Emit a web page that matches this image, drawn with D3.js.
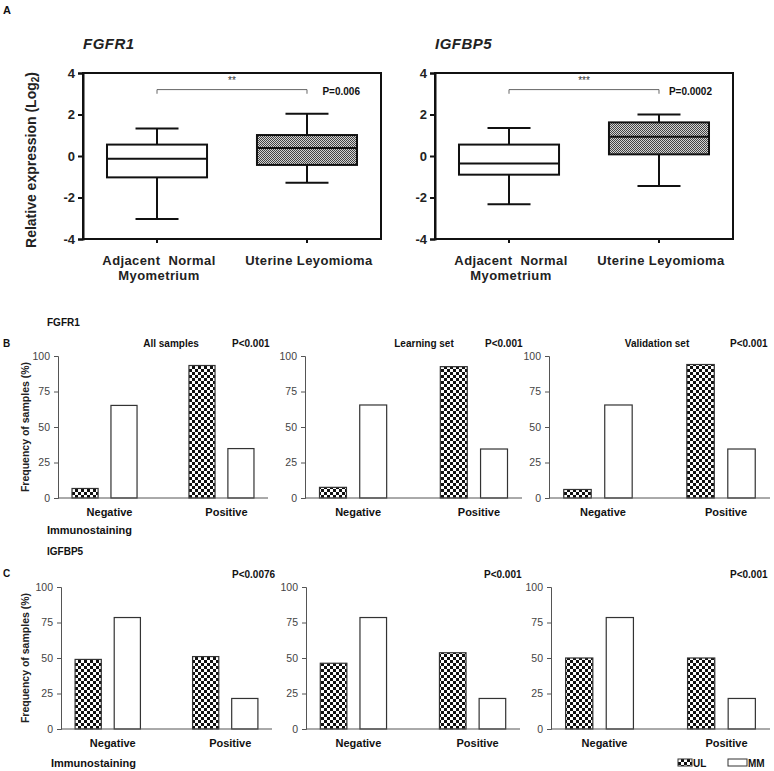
<!DOCTYPE html>
<html><head><meta charset="utf-8">
<script src="https://cdn.jsdelivr.net/npm/d3@7"></script>
<style>body{margin:0;background:#fff} svg{display:block} text{font-family:Arial,"Liberation Sans",sans-serif}</style>
</head><body><svg id="c" width="774" height="771"></svg>
<script>
// ---------- DATA ----------
const boxCategories = ["Adjacent  Normal|Myometrium", "Uterine Leyomioma"];
const boxYTicks = [4, 2, 0, -2, -4];
const boxGenes = ["FGFR1", "IGFBP5"];
const boxPValues = ["P=0.006", "P=0.0002"];
const boxStars = ["**", "***"];
const fgfr1Box = [
  {min: -3.04, q1: -1.03, median: -0.13, q3: 0.55, max: 1.33},
  {min: -1.29, q1: -0.43, median: 0.39, q3: 1.01, max: 2.04}
];
const igfbp5Box = [
  {min: -2.33, q1: -0.90, median: -0.36, q3: 0.55, max: 1.35},
  {min: -1.45, q1: 0.08, median: 0.93, q3: 1.62, max: 2.00}
];

const barCategories = ["Negative", "Positive"];
const barSeries = ["UL", "MM"];
const barYTicks = [0, 25, 50, 75, 100];
const fgfr1SetTitles = ["All samples", "Learning set", "Validation set"];
const fgfr1PValues = ["P<0.001", "P<0.001", "P<0.001"];
const igfbp5PValues = ["P<0.0076", "P<0.001", "P<0.001"];
const fgfr1UL = [[6.7, 93.3], [7.5, 92.5], [6.0, 94.0]];
const fgfr1MM = [[65.2, 34.8], [65.5, 34.5], [65.5, 34.5]];
const igfbp5UL = [[49.0, 51.0], [46.3, 53.7], [50.0, 50.0]];
const igfbp5MM = [[78.5, 21.5], [78.5, 21.5], [78.5, 21.5]];

// ---------- DRAW ----------
const svg = d3.select("#c");
const defs = svg.append("defs");
const chk = defs.append("pattern").attr("id", "checker").attr("width", 6).attr("height", 6)
  .attr("patternUnits", "userSpaceOnUse");
chk.append("rect").attr("width", 6).attr("height", 6).attr("fill", "#fff");
chk.append("rect").attr("width", 3).attr("height", 3).attr("fill", "#111");
chk.append("rect").attr("x", 3).attr("y", 3).attr("width", 3).attr("height", 3).attr("fill", "#111");
const fine = defs.append("pattern").attr("id", "fine").attr("width", 2).attr("height", 2)
  .attr("patternUnits", "userSpaceOnUse");
fine.append("rect").attr("width", 2).attr("height", 2).attr("fill", "#d4d4d4");
fine.append("rect").attr("width", 1).attr("height", 1).attr("fill", "#444");
fine.append("rect").attr("x", 1).attr("y", 1).attr("width", 1).attr("height", 1).attr("fill", "#444");

function txt(x, y, s, opts = {}) {
  return svg.append("text").attr("x", x).attr("y", y).text(s)
    .attr("font-size", opts.size || 10).attr("font-weight", opts.weight || "bold")
    .attr("font-style", opts.style || "normal").attr("fill", opts.fill || "#111")
    .attr("text-anchor", opts.anchor || "start");
}

txt(3, 14, "A", {size: 11});
txt(3, 347, "B", {size: 10});
txt(3, 577, "C", {size: 10});

function drawBox(left, right, data, gene, pval, stars) {
  const top = 73, bottom = 239;
  const y = d3.scaleLinear().domain([-4, 4]).range([bottom, top]);
  const x = d3.scaleBand().domain(boxCategories).range([left, right]).paddingInner(0.333).paddingOuter(0.16);
  const g = svg.append("g");
  const bw = x.bandwidth();
  data.forEach((d, i) => {
    const cat = boxCategories[i];
    const cx = x(cat) + bw / 2;
    const fill = i === 0 ? "#fff" : "url(#fine)";
    g.append("line").attr("x1", cx).attr("x2", cx).attr("y1", y(d.q3)).attr("y2", y(d.max)).attr("stroke", "#111").attr("stroke-width", 2);
    g.append("line").attr("x1", cx).attr("x2", cx).attr("y1", y(d.q1)).attr("y2", y(d.min)).attr("stroke", "#111").attr("stroke-width", 2);
    g.append("line").attr("x1", cx - 21.5).attr("x2", cx + 21.5).attr("y1", y(d.max)).attr("y2", y(d.max)).attr("stroke", "#111").attr("stroke-width", 2);
    g.append("line").attr("x1", cx - 21.5).attr("x2", cx + 21.5).attr("y1", y(d.min)).attr("y2", y(d.min)).attr("stroke", "#111").attr("stroke-width", 2);
    g.append("rect").attr("x", x(cat)).attr("y", y(d.q3)).attr("width", bw).attr("height", y(d.q1) - y(d.q3))
      .attr("fill", fill).attr("stroke", "#111").attr("stroke-width", 2);
    g.append("line").attr("x1", x(cat)).attr("x2", x(cat) + bw).attr("y1", y(d.median)).attr("y2", y(d.median)).attr("stroke", "#111").attr("stroke-width", 2);
  });
  g.append("rect").attr("x", left).attr("y", top).attr("width", right - left).attr("height", bottom - top)
    .attr("fill", "none").attr("stroke", "#111").attr("stroke-width", 2);
  const ya = g.append("g").attr("transform", `translate(${left},0)`)
    .call(d3.axisLeft(y).tickValues(boxYTicks).tickSize(5).tickPadding(3).tickFormat(d => String(d)));
  ya.select(".domain").attr("stroke-width", 2).attr("stroke", "#111");
  ya.selectAll(".tick line").attr("stroke-width", 2).attr("stroke", "#111");
  ya.selectAll("text").attr("font-size", 13).attr("font-weight", "bold").attr("fill", "#222")
    .attr("font-family", "Arial, 'Liberation Sans', sans-serif");
  const xa = g.append("g").attr("transform", `translate(0,${bottom})`)
    .call(d3.axisBottom(x).tickSize(4).tickFormat(""));
  xa.select(".domain").remove();
  xa.selectAll(".tick line").attr("stroke-width", 2).attr("stroke", "#111");
  boxCategories.forEach(cat => {
    const cx = x(cat) + bw / 2;
    cat.split("|").forEach((line, k) => {
      txt(cx + 2, 265 + k * 15, line, {size: 13, anchor: "middle", fill: "#222"})
        .attr("letter-spacing", 0.4).attr("xml:space", "preserve").style("white-space", "pre");
    });
  });
  const c0 = x(boxCategories[0]) + bw / 2, c1 = x(boxCategories[1]) + bw / 2;
  g.append("path").attr("d", `M${c0},${y(3.0)}V${y(3.2)}H${c1}V${y(3.0)}`)
    .attr("fill", "none").attr("stroke", "#666").attr("stroke-width", 1);
  txt((c0 + c1) / 2, y(3.45), stars, {size: 10, anchor: "middle", fill: "#333", weight: "normal"});
  txt(right - 21, y(2.95), pval, {size: 10, anchor: "end"});
  txt(left, 49, gene, {size: 15, style: "italic", fill: "#222"}).attr("letter-spacing", 0.5);
}

drawBox(83, 381, fgfr1Box, boxGenes[0], boxPValues[0], boxStars[0]);
drawBox(435, 733, igfbp5Box, boxGenes[1], boxPValues[1], boxStars[1]);

svg.append("text").attr("transform", "translate(36,160) rotate(-90)").attr("text-anchor", "middle")
  .attr("font-size", 14).attr("font-weight", "bold").attr("fill", "#222")
  .call(t => { t.append("tspan").text("Relative expression (Log"); t.append("tspan").attr("font-size", 10).attr("dy", 3).text("2"); t.append("tspan").attr("dy", -3).text(")"); });

function drawBars(left, right, top, bottom, ul, mm, title, titleX, pval, pX, pY, yLabel) {
  const y = d3.scaleLinear().domain([0, 100]).range([bottom, top]);
  const x0 = d3.scaleBand().domain(barCategories).range([left, right]).paddingInner(0.444).paddingOuter(0.12);
  const x1 = d3.scaleBand().domain(barSeries).range([0, x0.bandwidth()]).paddingInner(0.33);
  const g = svg.append("g");
  const vals = {UL: ul, MM: mm};
  barCategories.forEach((cat, ci) => {
    barSeries.forEach(s => {
      const v = vals[s][ci];
      g.append("rect").attr("x", x0(cat) + x1(s)).attr("y", y(v)).attr("width", x1.bandwidth()).attr("height", y(0) - y(v))
        .attr("fill", s === "UL" ? "url(#checker)" : "#fff").attr("stroke", "#333").attr("stroke-width", 1.2);
    });
    txt(x0(cat) + x0.bandwidth() / 2 + 5, bottom + 18, cat, {size: 11, anchor: "middle"});
  });
  const ya = g.append("g").attr("transform", `translate(${left},0)`)
    .call(d3.axisLeft(y).tickValues(barYTicks).tickSize(4).tickPadding(4));
  ya.select(".domain").attr("stroke", "#555");
  ya.selectAll(".tick line").attr("stroke", "#555");
  ya.selectAll("text").attr("font-size", 10.5).attr("fill", "#444").attr("font-family", "Arial, 'Liberation Sans', sans-serif");
  g.append("line").attr("x1", left).attr("x2", right).attr("y1", bottom).attr("y2", bottom).attr("stroke", "#555");
  if (title) txt(titleX, pY, title, {size: 10, anchor: "middle"});
  txt(pX, pY, pval, {size: 10});
  if (yLabel) {
    svg.append("text").attr("transform", `translate(29,${(top + bottom) / 2}) rotate(-90)`).attr("text-anchor", "middle")
      .attr("font-size", 10.5).attr("font-weight", "bold").attr("fill", "#222").text("Frequency of samples (%)");
  }
}

txt(47, 326, "FGFR1", {size: 10});
const bRanges = [[58, 268], [305, 522], [549, 770]];
const bTitleX = [171, 424, 657];
const bPX = [232, 485, 730];
bRanges.forEach((r, i) => drawBars(r[0], r[1], 356, 498, fgfr1UL[i], fgfr1MM[i], fgfr1SetTitles[i], bTitleX[i], fgfr1PValues[i], bPX[i], 347, i === 0));
txt(47, 534, "Immunostaining", {size: 11});

txt(47, 555, "IGFBP5", {size: 10});
const cRanges = [[61, 272], [306, 520], [551, 770]];
const cPX = [232, 484, 730];
cRanges.forEach((r, i) => drawBars(r[0], r[1], 587, 729, igfbp5UL[i], igfbp5MM[i], null, 0, igfbp5PValues[i], cPX[i], 578, i === 0));
txt(51, 767, "Immunostaining", {size: 11});

svg.append("rect").attr("x", 678).attr("y", 759).attr("width", 14).attr("height", 7).attr("fill", "url(#checker)").attr("stroke", "#333");
txt(693, 767, barSeries[0], {size: 10});
svg.append("rect").attr("x", 728).attr("y", 759).attr("width", 19).attr("height", 7).attr("fill", "#fff").attr("stroke", "#333");
txt(748, 767, barSeries[1], {size: 10});
</script></body></html>
